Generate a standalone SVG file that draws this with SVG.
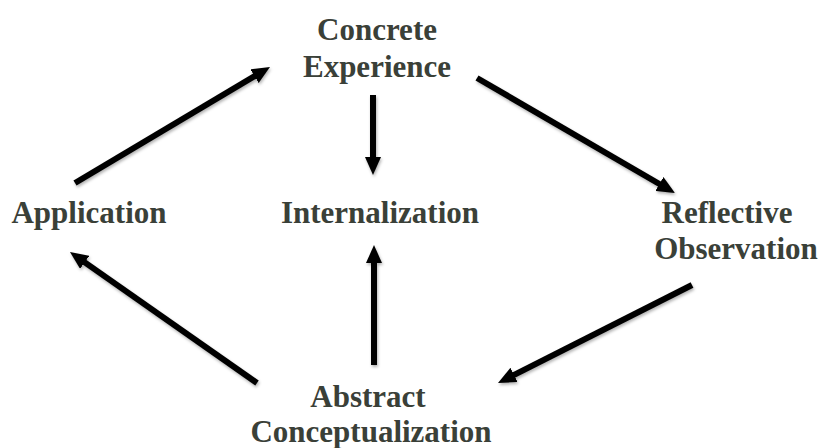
<svg xmlns="http://www.w3.org/2000/svg" width="823" height="448" viewBox="0 0 823 448">
<style>
.lbl{font-family:"Liberation Serif","Times New Roman",serif;font-weight:bold;font-size:31px;fill:#3a4038;text-anchor:middle}
.arr{stroke:#000;stroke-width:6;fill:none;marker-end:url(#ah);filter:url(#sh)}
</style>
<defs>
<marker id="ah" markerUnits="userSpaceOnUse" viewBox="0 0 18 16" markerWidth="18" markerHeight="16" refX="6" refY="8" orient="auto">
<path d="M0,0 L18,8 L0,16 Z" fill="#000"/>
</marker>
<filter id="sh" filterUnits="userSpaceOnUse" x="0" y="0" width="823" height="448">
<feDropShadow dx="1" dy="2" stdDeviation="1.5" flood-color="#000" flood-opacity="0.3"/>
</filter>
</defs>
<g id="concrete"><text class="lbl" x="377" y="40">Concrete</text><text class="lbl" x="377" y="77">Experience</text></g>
<g id="application"><text class="lbl" x="89" y="223">Application</text></g>
<g id="internalization"><text class="lbl" x="380" y="223">Internalization</text></g>
<g id="reflective"><text class="lbl" x="727" y="223">Reflective</text><text class="lbl" x="736" y="259">Observation</text></g>
<g id="abstract"><text class="lbl" x="368" y="407">Abstract</text><text class="lbl" x="371" y="442">Conceptualization</text></g>
<g id="connectors">
<line class="arr" x1="75" y1="183" x2="259.7" y2="73.1"/>
<line class="arr" x1="477" y1="78" x2="664.6" y2="187"/>
<line class="arr" x1="373" y1="95" x2="373" y2="163"/>
<line class="arr" x1="374" y1="365" x2="374" y2="257"/>
<line class="arr" x1="692" y1="285" x2="508.7" y2="377.6"/>
<line class="arr" x1="257" y1="383" x2="79.8" y2="258.9"/>
</g>
</svg>
